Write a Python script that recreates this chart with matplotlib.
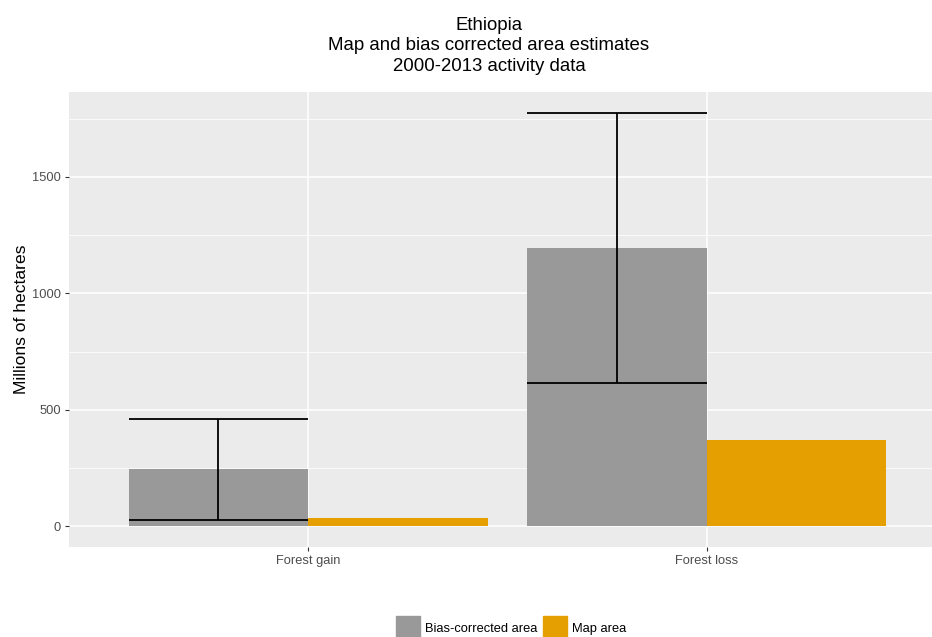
import numpy as np
import matplotlib
matplotlib.use('Agg')
import matplotlib.pyplot as plt
from matplotlib.patches import Rectangle

plt.rcParams['font.family'] = ['Liberation Sans', 'DejaVu Sans']

# bias-corrected vs map area estimates
categories = ['Forest gain', 'Forest loss']
bias_corrected = [245, 1193]
map_area = [37, 370]
ci_lower = [28, 613]
ci_upper = [460, 1775]
series_names = ['Bias-corrected area', 'Map area']
colors = ['#999999', '#E69F00']

fig = plt.figure(figsize=(9.32, 6.37), dpi=100)
# panel runs a bit past the right edge, like the cropped original
ax = fig.add_axes([69 / 932, 90 / 637, 877 / 932, 455 / 637])

x = np.arange(1, len(categories) + 1)
w = 0.45

ax.set_facecolor('#EBEBEB')
for s in ax.spines.values():
    s.set_visible(False)

ax.set_xlim(0.4, 2.6)
ax.set_ylim(-88.75, 1863.75)
ax.set_yticks([0, 500, 1000, 1500])
ax.set_yticks([250, 750, 1250, 1750], minor=True)
ax.set_xticks(x)
ax.set_xticklabels(categories)
ax.grid(True, which='major', color='white', lw=1.1)
ax.grid(True, which='minor', axis='y', color='white', lw=0.55)
ax.set_axisbelow(True)
ax.tick_params(which='major', length=3, width=0.8, color='#333333',
               labelcolor='#4D4D4D', labelsize=9.3, pad=3)
ax.tick_params(which='minor', length=0)

ax.bar(x - w / 2, bias_corrected, width=w, color=colors[0], zorder=2)
ax.bar(x + w / 2, map_area, width=w, color=colors[1], zorder=2)

# error bars spanning the full bar width
ax.vlines(x - w / 2, ci_lower, ci_upper, color='black', lw=1.3, zorder=3)
ax.hlines(ci_lower, x - w, x, color='black', lw=1.3, zorder=3)
ax.hlines(ci_upper, x - w, x, color='black', lw=1.3, zorder=3)

ax.set_ylabel('Millions of hectares', fontsize=12.6, labelpad=2)

fig.text(489 / 932, 1 - 46 / 637,
         'Ethiopia\nMap and bias corrected area estimates\n2000-2013 activity data',
         ha='center', va='center', fontsize=13.4, linespacing=1.3)

# legend at bottom
keys = [(396, series_names[0]), (543, series_names[1])]
for (px, name), c in zip(keys, colors):
    fig.patches.append(Rectangle((px / 932, 0), 24 / 932, 21 / 637,
                                 transform=fig.transFigure, color=c))
    fig.text((px + 29) / 932, 1 - 629 / 637, name, ha='left', va='center',
             fontsize=9.3, color='black')

plt.savefig('out.png', dpi=100)
